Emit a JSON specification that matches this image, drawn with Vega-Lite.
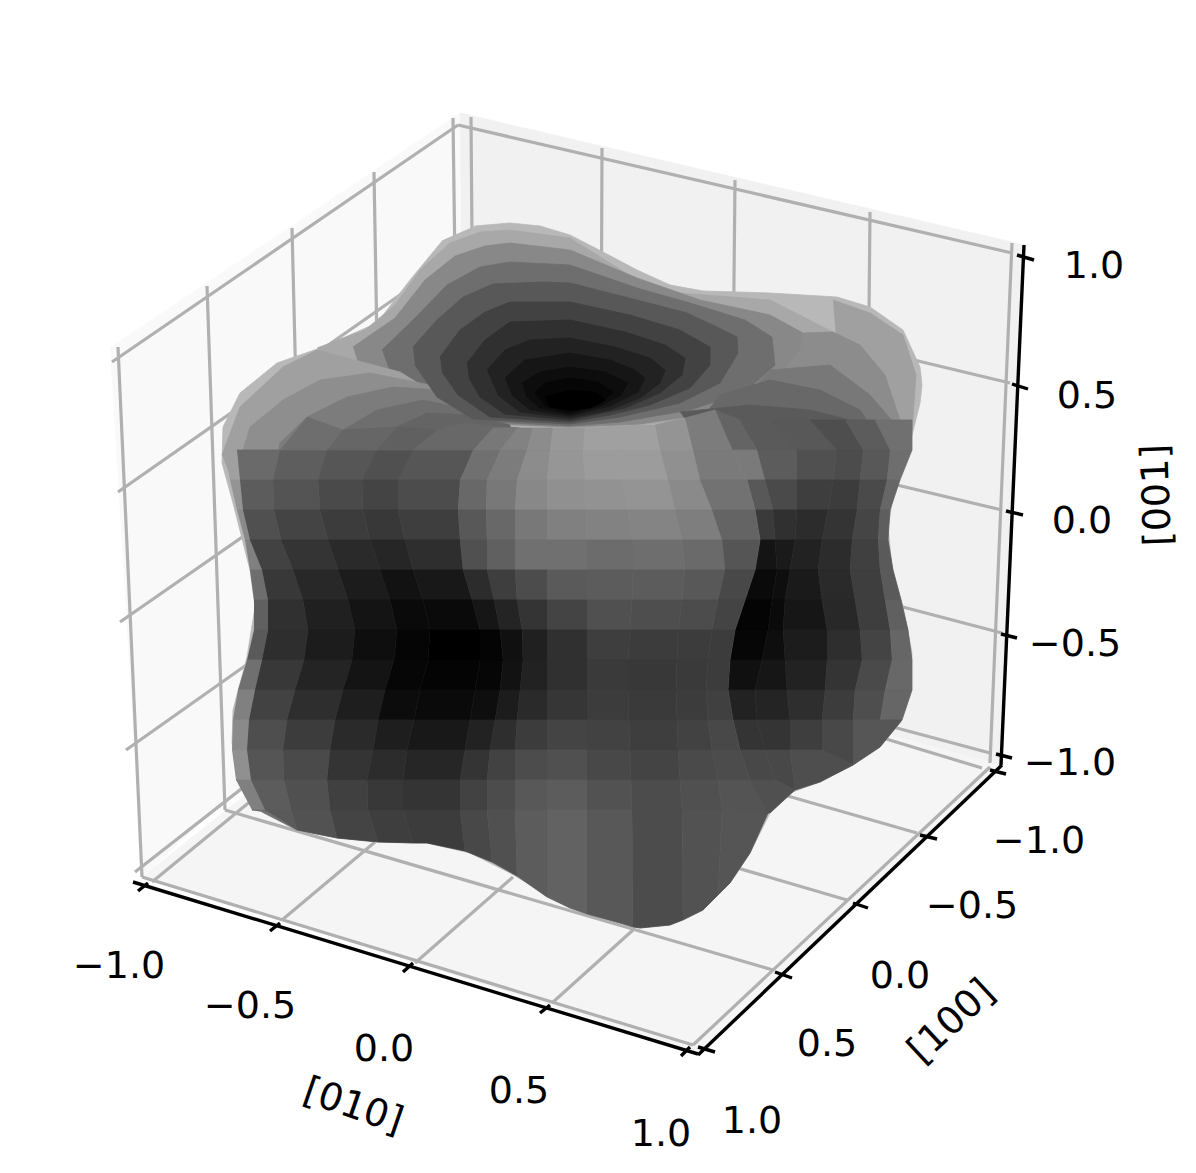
{"$schema":"https://vega.github.io/schema/vega-lite/v6.json","width":1196,"height":1173,"padding":0,"autosize":{"type":"none"},"background":"#ffffff","config":{"view":{"stroke":null}},
"datasets":{
"panes":[
{"v":249,"x":[110,460,465,226,142],"y":[348,113,640,800,877]},
{"v":241,"x":[460,1024,1001,465],"y":[113,245,765,620]},
{"v":245,"x":[142,465,1001,698],"y":[877,620,765,1052]}],
"grid":[
{"x":[112,458],"y":[362,125]},{"x":[118,407],"y":[492,290]},{"x":[120,300],"y":[622,497]},{"x":[126,300],"y":[750,627]},{"x":[135,300],"y":[872,743]},
{"x":[118,142],"y":[347,877]},{"x":[207,225],"y":[286,810]},{"x":[292,305],"y":[228,750]},{"x":[374,383],"y":[172,690]},{"x":[453,460],"y":[118,635]},
{"x":[458,1012],"y":[125,253]},{"x":[600,1010],"y":[285,383]},{"x":[700,1002],"y":[438,510]},{"x":[800,1002],"y":[580,633]},{"x":[800,990],"y":[702,753]},
{"x":[471,475],"y":[117,600]},{"x":[602,600],"y":[148,640]},{"x":[735,730],"y":[180,680]},{"x":[870,865],"y":[212,720]},{"x":[1012,990],"y":[243,763]},
{"x":[152,252],"y":[882,800]},{"x":[282,375],"y":[920,842]},{"x":[415,513],"y":[963,877]},{"x":[552,633],"y":[1003,930]},{"x":[693,990],"y":[1045,767]},
{"x":[142,693],"y":[877,1045]},{"x":[225,773],"y":[810,970]},{"x":[700,847],"y":[857,900]},{"x":[760,917],"y":[788,833]},{"x":[830,982],"y":[722,768]}],
"axes":[
{"x":[133,698],"y":[882,1054]},{"x":[698,1002],"y":[1055,765]},{"x":[1024,1001],"y":[245,765]},
{"x":[148,138],"y":[883,891]},{"x":[280,270],"y":[923,931]},{"x":[413,403],"y":[963,972]},{"x":[550,540],"y":[1005,1013]},{"x":[690,681],"y":[1047,1056]},
{"x":[698,715],"y":[1047,1052]},{"x":[775,792],"y":[972,978]},{"x":[853,868],"y":[903,908]},{"x":[920,937],"y":[835,839]},{"x":[990,1006],"y":[770,774]},
{"x":[1017,1034],"y":[255,260]},{"x":[1012,1028],"y":[384,389]},{"x":[1006,1023],"y":[511,515]},{"x":[1001,1017],"y":[634,638]},{"x":[996,1012],"y":[754,758]}],
"labels":[
{"t":"1.0","x":1094,"y":267,"a":0},{"t":"0.5","x":1087,"y":397,"a":0},{"t":"0.0","x":1082,"y":522,"a":0},{"t":"−0.5","x":1075,"y":645,"a":0},{"t":"−1.0","x":1070,"y":764,"a":0},
{"t":"−1.0","x":1039,"y":842,"a":0},{"t":"−0.5","x":972,"y":907,"a":0},{"t":"0.0","x":900,"y":977,"a":0},{"t":"0.5","x":827,"y":1045,"a":0},{"t":"1.0","x":752,"y":1122,"a":0},
{"t":"−1.0","x":119,"y":967,"a":0},{"t":"−0.5","x":250,"y":1007,"a":0},{"t":"0.0","x":384,"y":1050,"a":0},{"t":"0.5","x":519,"y":1092,"a":0},{"t":"1.0","x":661,"y":1135,"a":0},
{"t":"[010]","x":353,"y":1107,"a":19},{"t":"[100]","x":952,"y":1022,"a":-43},{"t":"[001]","x":1158,"y":495,"a":-92}],
"blob":[
{"v":184,"x":[475,510,540,570,603,637,670,703,770,837,870,903,920,922,920,910,893,888,892,903,912,910,900,880,853,820,790,770,750,730,703,670,640,620,570,510,470,427,377,337,297,260,240,232,233,247,255,250,233,222,223,240,277,320,377,410,443],"y":[226,223,226,235,252,270,285,291,293,297,307,330,367,385,403,443,497,527,567,607,653,693,723,747,765,782,793,813,853,883,910,925,928,923,908,873,853,843,842,838,830,810,783,743,710,657,607,570,503,463,427,393,363,348,323,280,240]},
{"v":168,"x":[317,365,395,420,450,480,510,570,637,680,770,833,840,800,740,640,570,470,400,350],"y":[348,330,305,270,243,232,230,238,280,293,300,332,370,400,415,425,428,424,410,385]},
{"v":136,"x":[353,395,425,455,485,510,570,637,700,770,803,808,770,700,640,570,470,400,362],"y":[347,318,280,256,246,243,250,278,300,315,333,370,400,415,424,427,423,405,375]},
{"v":110,"x":[382,415,447,480,510,570,637,690,745,772,775,745,690,620,570,475,420,390],"y":[350,318,285,267,262,265,288,303,320,337,365,392,410,422,426,421,400,372]},
{"v":160,"x":[222,240,283,317,400,470,470,232],"y":[455,407,367,350,372,415,470,480]},
{"v":142,"x":[237,250,283,320,370,430,480,480],"y":[470,427,400,380,373,385,410,470]},
{"v":124,"x":[273,280,307,347,393,440,490,490],"y":[477,443,417,397,387,390,415,470]},
{"v":110,"x":[318,327,343,377,423,470,500,500],"y":[477,450,430,410,400,410,420,470]},
{"v":100,"x":[362,377,397,427,470,510,510],"y":[477,443,427,413,415,425,470]},
{"v":104,"x":[398,413,437,463,520,520],"y":[477,450,430,423,428,470]},
{"v":160,"x":[833,870,903,916,912,880,863,837],"y":[300,313,335,375,430,450,377,350]},
{"v":140,"x":[803,833,860,885,900,890,850,790,763,783,800],"y":[333,332,345,375,420,470,470,430,400,370,350]},
{"v":120,"x":[770,830,870,900,895,780,740],"y":[370,365,395,430,470,450,400]},
{"v":104,"x":[720,770,820,860,880,800,700],"y":[395,380,390,410,440,460,420]},
{"v":90,"x":[680,750,810,850,880,700],"y":[412,405,410,420,440,440]},
{"v":88,"x":[413,437,463,493,543,570,637,687,717,737,738,720,680,620,570,473,437,415],"y":[347,320,297,284,282,283,300,313,327,337,353,383,403,417,424,419,397,365]},
{"v":66,"x":[440,460,485,510,570,630,680,710,710,690,650,610,570,490,458,442],"y":[357,330,312,302,302,315,330,347,365,388,405,415,422,417,395,372]},
{"v":48,"x":[467,485,510,570,625,665,685,682,660,625,570,505,480,469],"y":[363,340,322,320,332,345,358,375,393,408,420,414,397,378]},
{"v":34,"x":[487,505,530,570,615,650,665,660,640,610,570,520,498],"y":[370,350,340,338,347,358,370,383,398,410,418,412,395]},
{"v":22,"x":[505,525,570,610,635,645,638,610,570,530,512],"y":[378,360,353,360,370,378,392,406,416,410,395]},
{"v":13,"x":[522,540,570,605,628,620,600,570,540,526],"y":[383,372,367,372,383,396,406,414,408,396]},
{"v":6,"x":[535,545,570,598,613,600,570,545],"y":[393,383,378,382,392,404,412,406]},
{"v":0,"x":[545,570,595,605,590,570,550],"y":[397,390,392,400,408,410,407]},

{"v":100,"x":[715,740,757,732],"y":[410,420,450,450]},{"v":90,"x":[740,770,797,757],"y":[420,420,450,450]},{"v":88,"x":[770,810,837,797],"y":[420,420,450,450]},{"v":78,"x":[810,845,863,837],"y":[420,420,450,450]},{"v":92,"x":[845,875,890,863],"y":[420,420,450,450]},{"v":112,"x":[875,912,912,890],"y":[420,420,450,450]},
{"v":122,"x":[732,757,765,747],"y":[450,450,480,480]},{"v":92,"x":[757,797,797,765],"y":[450,450,480,480]},{"v":80,"x":[797,837,833,797],"y":[450,450,480,480]},{"v":76,"x":[837,863,860,833],"y":[450,450,480,480]},{"v":88,"x":[863,890,887,860],"y":[450,450,480,480]},{"v":110,"x":[890,912,900,887],"y":[450,450,480,480]},
{"v":88,"x":[747,765,773,755],"y":[480,480,510,510]},{"v":74,"x":[765,797,797,773],"y":[480,480,510,510]},{"v":62,"x":[797,833,828,797],"y":[480,480,510,510]},{"v":60,"x":[833,860,857,828],"y":[480,480,510,510]},{"v":74,"x":[860,887,880,857],"y":[480,480,510,510]},{"v":102,"x":[887,900,890,880],"y":[480,480,510,510]},
{"v":58,"x":[755,773,775,760],"y":[510,510,540,540]},{"v":48,"x":[773,797,795,775],"y":[510,510,540,540]},{"v":44,"x":[797,828,822,795],"y":[510,510,540,540]},{"v":52,"x":[828,857,852,822],"y":[510,510,540,540]},{"v":69,"x":[857,880,878,852],"y":[510,510,540,540]},{"v":94,"x":[880,890,888,878],"y":[510,510,540,540]},
{"v":20,"x":[760,775,777,755],"y":[540,540,570,570]},{"v":26,"x":[775,795,790,777],"y":[540,540,570,570]},{"v":34,"x":[795,822,818,790],"y":[540,540,570,570]},{"v":44,"x":[822,852,850,818],"y":[540,540,570,570]},{"v":64,"x":[852,878,880,850],"y":[540,540,570,570]},{"v":90,"x":[878,888,893,880],"y":[540,540,570,570]},
{"v":10,"x":[755,777,772,745],"y":[570,570,600,600]},{"v":14,"x":[777,790,785,772],"y":[570,570,600,600]},{"v":26,"x":[790,818,822,785],"y":[570,570,600,600]},{"v":42,"x":[818,850,855,822],"y":[570,570,600,600]},{"v":62,"x":[850,880,885,855],"y":[570,570,600,600]},{"v":90,"x":[880,893,901,885],"y":[570,570,600,600]},
{"v":4,"x":[745,772,768,735],"y":[600,600,630,630]},{"v":10,"x":[772,785,783,768],"y":[600,600,630,630]},{"v":22,"x":[785,822,827,783],"y":[600,600,630,630]},{"v":40,"x":[822,855,860,827],"y":[600,600,630,630]},{"v":62,"x":[855,885,890,860],"y":[600,600,630,630]},{"v":96,"x":[885,901,908,890],"y":[600,600,630,630]},
{"v":6,"x":[735,768,762,730],"y":[630,630,660,660]},{"v":14,"x":[768,783,785,762],"y":[630,630,660,660]},{"v":28,"x":[783,827,827,785],"y":[630,630,660,660]},{"v":46,"x":[827,860,862,827],"y":[630,630,660,660]},{"v":68,"x":[860,890,892,862],"y":[630,630,660,660]},{"v":102,"x":[890,908,912,892],"y":[630,630,660,660]},
{"v":16,"x":[730,762,755,728],"y":[660,660,690,690]},{"v":22,"x":[762,785,787,755],"y":[660,660,690,690]},{"v":34,"x":[785,827,825,787],"y":[660,660,690,690]},{"v":52,"x":[827,862,855,825],"y":[660,660,690,690]},{"v":74,"x":[862,892,885,855],"y":[660,660,690,690]},{"v":104,"x":[892,912,912,885],"y":[660,660,690,690]},
{"v":34,"x":[728,755,757,733],"y":[690,690,720,720]},{"v":36,"x":[755,787,790,757],"y":[690,690,720,720]},{"v":46,"x":[787,825,822,790],"y":[690,690,720,720]},{"v":60,"x":[825,855,853,822],"y":[690,690,720,720]},{"v":78,"x":[855,885,880,853],"y":[690,690,720,720]},{"v":102,"x":[885,912,902,880],"y":[690,690,720,720]},
{"v":52,"x":[733,757,765,740],"y":[720,720,750,750]},{"v":52,"x":[757,790,790,765],"y":[720,720,750,750]},{"v":62,"x":[790,822,822,790],"y":[720,720,750,750]},{"v":72,"x":[822,853,853,822],"y":[720,720,765,750]},{"v":86,"x":[853,880,902,880,853],"y":[720,720,720,747,765]},
{"v":72,"x":[740,765,775,750],"y":[750,750,780,780]},{"v":72,"x":[765,790,795,775],"y":[750,750,790,780]},{"v":78,"x":[790,822,853,820,795],"y":[750,750,765,782,790]},
{"v":80,"x":[750,775,795,770,755],"y":[780,780,790,813,813]},

{"v":160,"x":[224,237,240,230],"y":[450,450,480,480]},{"v":106,"x":[237,280,273,240],"y":[450,450,480,480]},{"v":94,"x":[280,327,318,273],"y":[450,450,480,480]},{"v":86,"x":[327,377,362,318],"y":[450,450,480,480]},{"v":80,"x":[377,413,398,362],"y":[450,450,480,480]},{"v":86,"x":[413,473,460,398],"y":[450,450,480,480]},{"v":112,"x":[473,500,487,460],"y":[450,450,480,480]},{"v":124,"x":[500,527,517,487],"y":[450,450,480,480]},{"v":140,"x":[527,550,547,517],"y":[450,450,480,480]},{"v":150,"x":[550,583,585,547],"y":[450,450,480,480]},{"v":156,"x":[583,618,622,585],"y":[450,450,480,480]},{"v":156,"x":[618,660,668,622],"y":[450,450,480,480]},{"v":144,"x":[660,693,700,668],"y":[450,450,480,480]},{"v":122,"x":[693,732,747,700],"y":[450,450,480,480]},
{"v":110,"x":[307,343,327,280],"y":[417,430,450,450]},{"v":102,"x":[343,397,377,327],"y":[430,427,450,450]},{"v":96,"x":[397,437,413,377],"y":[427,430,450,450]},{"v":104,"x":[437,493,473,413],"y":[430,428,450,450]},{"v":120,"x":[493,517,500,473],"y":[428,428,450,450]},{"v":130,"x":[517,533,527,500],"y":[428,428,450,450]},{"v":140,"x":[533,553,550,527],"y":[428,428,450,450]},{"v":152,"x":[553,585,583,550],"y":[428,428,450,450]},{"v":160,"x":[585,620,618,583],"y":[428,426,450,450]},{"v":160,"x":[620,655,660,618],"y":[426,425,450,450]},{"v":148,"x":[655,685,693,660],"y":[425,418,450,450]},{"v":124,"x":[685,715,732,693],"y":[418,410,450,450]},
{"v":148,"x":[230,240,243,237],"y":[480,480,510,510]},{"v":92,"x":[240,273,274,243],"y":[480,480,510,510]},{"v":84,"x":[273,318,320,274],"y":[480,480,510,510]},{"v":74,"x":[318,362,363,320],"y":[480,480,510,510]},{"v":68,"x":[362,398,398,363],"y":[480,480,510,510]},{"v":76,"x":[398,460,458,398],"y":[480,480,510,510]},{"v":104,"x":[460,487,486,458],"y":[480,480,510,510]},{"v":120,"x":[487,517,515,486],"y":[480,480,510,510]},{"v":136,"x":[517,547,547,515],"y":[480,480,510,510]},{"v":144,"x":[547,585,586,547],"y":[480,480,510,510]},{"v":146,"x":[585,622,628,586],"y":[480,480,510,510]},{"v":148,"x":[622,668,675,628],"y":[480,480,510,510]},{"v":138,"x":[668,700,712,675],"y":[480,480,510,510]},{"v":114,"x":[700,747,755,712],"y":[480,480,510,510]},
{"v":138,"x":[237,243,250,245],"y":[510,510,540,540]},{"v":80,"x":[243,274,281,250],"y":[510,510,540,540]},{"v":68,"x":[274,320,328,281],"y":[510,510,540,540]},{"v":60,"x":[320,363,370,328],"y":[510,510,540,540]},{"v":56,"x":[363,398,405,370],"y":[510,510,540,540]},{"v":62,"x":[398,458,460,405],"y":[510,510,540,540]},{"v":88,"x":[458,486,487,460],"y":[510,510,540,540]},{"v":104,"x":[486,515,515,487],"y":[510,510,540,540]},{"v":120,"x":[515,547,547,515],"y":[510,510,540,540]},{"v":128,"x":[547,586,587,547],"y":[510,510,540,540]},{"v":130,"x":[586,628,633,587],"y":[510,510,540,540]},{"v":132,"x":[628,675,682,633],"y":[510,510,540,540]},{"v":126,"x":[675,712,722,682],"y":[510,510,540,540]},{"v":100,"x":[712,755,760,722],"y":[510,510,540,540]},
{"v":128,"x":[245,250,262,250],"y":[540,540,570,570]},{"v":66,"x":[250,281,293,262],"y":[540,540,570,570]},{"v":52,"x":[281,328,338,293],"y":[540,540,570,570]},{"v":42,"x":[328,370,380,338],"y":[540,540,570,570]},{"v":38,"x":[370,405,413,380],"y":[540,540,570,570]},{"v":46,"x":[405,460,463,413],"y":[540,540,570,570]},{"v":80,"x":[460,487,487,463],"y":[540,540,570,570]},{"v":96,"x":[487,515,515,487],"y":[540,540,570,570]},{"v":112,"x":[515,547,547,515],"y":[540,540,570,570]},{"v":112,"x":[547,587,587,547],"y":[540,540,570,570]},{"v":108,"x":[587,633,633,587],"y":[540,540,570,570]},{"v":110,"x":[633,682,685,633],"y":[540,540,570,570]},{"v":106,"x":[682,722,725,685],"y":[540,540,570,570]},{"v":85,"x":[722,760,755,725],"y":[540,540,570,570]},
{"v":110,"x":[250,262,268,254],"y":[570,570,600,600]},{"v":56,"x":[262,293,303,268],"y":[570,570,600,600]},{"v":40,"x":[293,338,348,303],"y":[570,570,600,600]},{"v":28,"x":[338,380,390,348],"y":[570,570,600,600]},{"v":18,"x":[380,413,423,390],"y":[570,570,600,600]},{"v":24,"x":[413,463,472,423],"y":[570,570,600,600]},{"v":44,"x":[463,487,494,472],"y":[570,570,600,600]},{"v":62,"x":[487,515,517,494],"y":[570,570,600,600]},{"v":76,"x":[515,547,547,517],"y":[570,570,600,600]},{"v":90,"x":[547,587,587,547],"y":[570,570,600,600]},{"v":92,"x":[587,633,632,587],"y":[570,570,600,600]},{"v":92,"x":[633,685,682,632],"y":[570,570,600,600]},{"v":88,"x":[685,725,718,682],"y":[570,570,600,600]},{"v":72,"x":[725,755,745,718],"y":[570,570,600,600]},
{"v":96,"x":[254,268,268,254],"y":[600,600,630,630]},{"v":48,"x":[268,303,308,268],"y":[600,600,630,630]},{"v":32,"x":[303,348,355,308],"y":[600,600,630,630]},{"v":20,"x":[348,390,397,355],"y":[600,600,630,630]},{"v":10,"x":[390,423,430,397],"y":[600,600,630,630]},{"v":10,"x":[423,472,480,430],"y":[600,600,630,630]},{"v":22,"x":[472,494,500,480],"y":[600,600,630,630]},{"v":36,"x":[494,517,522,500],"y":[600,600,630,630]},{"v":52,"x":[517,547,547,522],"y":[600,600,630,630]},{"v":68,"x":[547,587,587,547],"y":[600,600,630,630]},{"v":80,"x":[587,632,630,587],"y":[600,600,630,630]},{"v":78,"x":[632,682,678,630],"y":[600,600,630,630]},{"v":76,"x":[682,718,712,678],"y":[600,600,630,630]},{"v":68,"x":[718,745,735,712],"y":[600,600,630,630]},
{"v":90,"x":[254,268,262,247],"y":[630,630,660,660]},{"v":46,"x":[268,308,304,262],"y":[630,630,660,660]},{"v":28,"x":[308,355,352,304],"y":[630,630,660,660]},{"v":14,"x":[355,397,394,352],"y":[630,630,660,660]},{"v":5,"x":[397,430,428,394],"y":[630,630,660,660]},{"v":0,"x":[430,480,480,428],"y":[630,630,660,660]},{"v":4,"x":[480,500,503,480],"y":[630,630,660,660]},{"v":16,"x":[500,522,523,503],"y":[630,630,660,660]},{"v":32,"x":[522,547,547,523],"y":[630,630,660,660]},{"v":48,"x":[547,587,587,547],"y":[630,630,660,660]},{"v":62,"x":[587,630,628,587],"y":[630,630,660,660]},{"v":60,"x":[630,678,677,628],"y":[630,630,660,660]},{"v":60,"x":[678,712,708,677],"y":[630,630,660,660]},{"v":60,"x":[712,735,730,708],"y":[630,630,660,660]},
{"v":112,"x":[247,262,255,238],"y":[660,660,690,690]},{"v":56,"x":[262,304,295,255],"y":[660,660,690,690]},{"v":36,"x":[304,352,343,295],"y":[660,660,690,690]},{"v":20,"x":[352,394,385,343],"y":[660,660,690,690]},{"v":6,"x":[394,428,420,385],"y":[660,660,690,690]},{"v":4,"x":[428,480,475,420],"y":[660,660,690,690]},{"v":6,"x":[480,503,500,475],"y":[660,660,690,690]},{"v":18,"x":[503,523,520,500],"y":[660,660,690,690]},{"v":34,"x":[523,547,547,520],"y":[660,660,690,690]},{"v":48,"x":[547,587,587,547],"y":[660,660,690,690]},{"v":58,"x":[587,628,628,587],"y":[660,660,690,690]},{"v":56,"x":[628,677,676,628],"y":[660,660,690,690]},{"v":58,"x":[677,708,706,676],"y":[660,660,690,690]},{"v":60,"x":[708,730,728,706],"y":[660,660,690,690]},
{"v":128,"x":[238,255,249,233],"y":[690,690,720,720]},{"v":66,"x":[255,295,287,249],"y":[690,690,720,720]},{"v":46,"x":[295,343,335,287],"y":[690,690,720,720]},{"v":30,"x":[343,385,378,335],"y":[690,690,720,720]},{"v":12,"x":[385,420,414,378],"y":[690,690,720,720]},{"v":10,"x":[420,475,470,414],"y":[690,690,720,720]},{"v":14,"x":[475,500,495,470],"y":[690,690,720,720]},{"v":28,"x":[500,520,517,495],"y":[690,690,720,720]},{"v":42,"x":[520,547,547,517],"y":[690,690,720,720]},{"v":54,"x":[547,587,587,547],"y":[690,690,720,720]},{"v":60,"x":[587,628,629,587],"y":[690,690,720,720]},{"v":58,"x":[628,676,677,629],"y":[690,690,720,720]},{"v":60,"x":[676,706,708,677],"y":[690,690,720,720]},{"v":64,"x":[706,728,733,708],"y":[690,690,720,720]},
{"v":138,"x":[233,249,247,232],"y":[720,720,750,750]},{"v":78,"x":[249,287,283,247],"y":[720,720,750,750]},{"v":60,"x":[287,335,330,283],"y":[720,720,750,750]},{"v":42,"x":[335,378,373,330],"y":[720,720,750,750]},{"v":30,"x":[378,414,407,373],"y":[720,720,750,750]},{"v":24,"x":[414,470,465,407],"y":[720,720,750,750]},{"v":34,"x":[470,495,490,465],"y":[720,720,750,750]},{"v":46,"x":[495,517,515,490],"y":[720,720,750,750]},{"v":60,"x":[517,547,547,515],"y":[720,720,750,750]},{"v":68,"x":[547,587,587,547],"y":[720,720,750,750]},{"v":66,"x":[587,629,630,587],"y":[720,720,750,750]},{"v":62,"x":[629,677,678,630],"y":[720,720,750,750]},{"v":66,"x":[677,708,712,678],"y":[720,720,750,750]},{"v":72,"x":[708,733,740,712],"y":[720,720,750,750]},
{"v":144,"x":[232,247,251,236],"y":[750,750,780,780]},{"v":85,"x":[247,283,284,251],"y":[750,750,780,780]},{"v":74,"x":[283,330,327,284],"y":[750,750,780,780]},{"v":52,"x":[330,373,367,327],"y":[750,750,780,780]},{"v":44,"x":[373,407,403,367],"y":[750,750,780,780]},{"v":38,"x":[407,465,460,403],"y":[750,750,780,780]},{"v":52,"x":[465,490,487,460],"y":[750,750,780,780]},{"v":66,"x":[490,515,515,487],"y":[750,750,780,780]},{"v":76,"x":[515,547,547,515],"y":[750,750,780,780]},{"v":80,"x":[547,587,587,547],"y":[750,750,780,780]},{"v":72,"x":[587,630,631,587],"y":[750,750,780,780]},{"v":68,"x":[630,678,680,631],"y":[750,750,780,780]},{"v":74,"x":[678,712,718,680],"y":[750,750,780,780]},{"v":76,"x":[712,740,750,718],"y":[750,750,780,780]},
{"v":128,"x":[236,251,265,252],"y":[780,780,810,810]},{"v":92,"x":[251,284,291,265],"y":[780,780,810,810]},{"v":80,"x":[284,327,330,291],"y":[780,780,810,810]},{"v":64,"x":[327,367,368,330],"y":[780,780,810,810]},{"v":56,"x":[367,403,403,368],"y":[780,780,810,810]},{"v":52,"x":[403,460,460,403],"y":[780,780,810,810]},{"v":66,"x":[460,487,487,460],"y":[780,780,810,810]},{"v":76,"x":[487,515,515,487],"y":[780,780,810,810]},{"v":88,"x":[515,547,547,515],"y":[780,780,810,810]},{"v":92,"x":[547,587,587,547],"y":[780,780,810,810]},{"v":82,"x":[587,631,632,587],"y":[780,780,810,810]},{"v":76,"x":[631,680,682,632],"y":[780,780,810,810]},{"v":80,"x":[680,718,722,682],"y":[780,780,810,810]},{"v":84,"x":[718,750,768,722],"y":[780,780,813,810]},
{"v":112,"x":[252,265,297,262],"y":[810,810,830,812]},{"v":90,"x":[265,291,297],"y":[810,810,830]},{"v":82,"x":[291,330,337,297],"y":[810,810,838,830]},{"v":68,"x":[330,368,378,337],"y":[810,810,842,838]},{"v":62,"x":[368,403,413,378],"y":[810,810,843,842]},{"v":60,"x":[403,460,465,427,413],"y":[810,810,851,843,843]},{"v":72,"x":[460,487,492,465],"y":[810,810,862,851]},{"v":80,"x":[487,515,517,492],"y":[810,810,876,862]},{"v":92,"x":[515,547,547,517],"y":[810,810,897,876]},{"v":98,"x":[547,587,587,570,547],"y":[810,810,914,908,897]},{"v":88,"x":[587,632,633,620,587],"y":[810,810,927,923,914]},{"v":76,"x":[632,682,683,670,640,633],"y":[810,810,920,925,928,927]},{"v":82,"x":[682,722,718,703,683],"y":[810,810,895,910,920]},{"v":85,"x":[722,768,750,730,718],"y":[810,813,853,883,895]}
]},
"layer":[
{"data":{"name":"panes"},"transform":[{"window":[{"op":"row_number","as":"p"}]},{"flatten":["x","y"]}],"mark":{"type":"line","strokeWidth":0.8},"encoding":{"x":{"field":"x","type":"quantitative","scale":{"domain":[0,1196],"nice":false,"zero":false},"axis":null},"y":{"field":"y","type":"quantitative","scale":{"domain":[0,1173],"reverse":true,"nice":false,"zero":false},"axis":null},"detail":{"field":"p"},"order":{"value":null},"fill":{"field":"v","type":"quantitative","scale":{"domain":[0,255],"range":["#000000","#ffffff"],"interpolate":"rgb"},"legend":null},"stroke":{"field":"v","type":"quantitative","scale":{"domain":[0,255],"range":["#000000","#ffffff"],"interpolate":"rgb"},"legend":null}}},
{"data":{"name":"grid"},"transform":[{"window":[{"op":"row_number","as":"p"}]},{"flatten":["x","y"]}],"mark":{"type":"line","stroke":"#b0b0b0","strokeWidth":3.2},"encoding":{"x":{"field":"x","type":"quantitative","axis":null},"y":{"field":"y","type":"quantitative","axis":null},"detail":{"field":"p"},"order":{"value":null}}},
{"data":{"name":"blob"},"transform":[{"window":[{"op":"row_number","as":"p"}]},{"flatten":["x","y"]}],"mark":{"type":"line","strokeWidth":0.8,"strokeJoin":"round"},"encoding":{"x":{"field":"x","type":"quantitative","axis":null},"y":{"field":"y","type":"quantitative","axis":null},"detail":{"field":"p"},"order":{"value":null},"fill":{"field":"v","type":"quantitative","scale":{"domain":[0,255],"range":["#000000","#ffffff"],"interpolate":"rgb"},"legend":null},"stroke":{"field":"v","type":"quantitative","scale":{"domain":[0,255],"range":["#000000","#ffffff"],"interpolate":"rgb"},"legend":null}}},
{"data":{"name":"axes"},"transform":[{"window":[{"op":"row_number","as":"p"}]},{"flatten":["x","y"]}],"mark":{"type":"line","stroke":"#000000","strokeWidth":3.4},"encoding":{"x":{"field":"x","type":"quantitative","axis":null},"y":{"field":"y","type":"quantitative","axis":null},"detail":{"field":"p"},"order":{"value":null}}},
{"data":{"name":"labels"},"mark":{"type":"text","font":"DejaVu Sans","fontSize":38,"align":"center","baseline":"middle","color":"#000000"},"encoding":{"x":{"field":"x","type":"quantitative","axis":null},"y":{"field":"y","type":"quantitative","axis":null},"text":{"field":"t"},"angle":{"field":"a","type":"quantitative","scale":null}}}
]}
